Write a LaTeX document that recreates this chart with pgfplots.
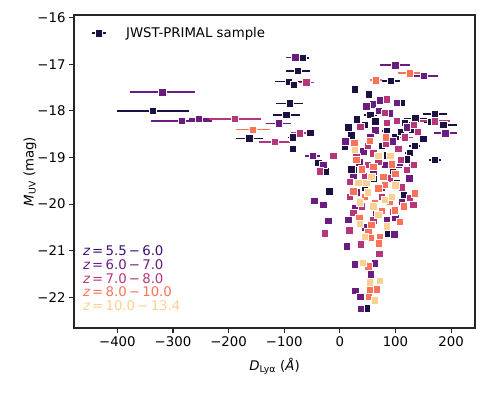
\documentclass[border=0pt]{standalone}
\usepackage{pgfplots}
\pgfplotsset{compat=1.18}
\usepackage{pgfplotstable}
\usepackage{fontspec}
\setmainfont{DejaVu Sans}
\definecolor{cA}{RGB}{28,16,68}
\definecolor{cAt}{RGB}{59,15,112}
\definecolor{cB}{RGB}{106,28,129}
\definecolor{cC}{RGB}{181,54,122}
\definecolor{cD}{RGB}{250,115,88}
\definecolor{cE}{RGB}{254,207,146}
\newcommand{\fs}{\fontsize{13.3}{16}\selectfont}

\pgfplotstableread{
x y ex
-336 -18.00 65
-163 -18.59 24
-66 -16.86 10
-75 -17.14 21
-92 -17.37 25
-83 -17.44 8
-90 -17.84 24
-96 -18.09 25
-53 -18.47 5
-85 -18.57 8
-84 -18.82 5
27 -17.54 5
52 -17.64 5
92 -17.35 17
112 -17.82 6
136 -18.16 20
171 -18.07 22
186 -18.30 24
164 -18.23 12
117 -18.25 10
84 -18.43 8
55 -18.09 12
30 -18.17 8
64 -18.22 6
31 -18.18 5
21 -18.52 6
9 -18.76 5
126 -18.90 8
135 -18.75 10
120 -19.04 8
171 -19.05 10
-39 -19.12 5
-25 -19.30 4
24 -19.27 5
21 -19.25 4
-19 -19.73 6
102 -19.55 6
87 -20.63 4
49 -22.24 3
100 -18.55 6
45 -18.30 5
75 -18.75 5
40 -18.90 5
110 -18.45 6
95 -19.30 5
60 -19.45 5
150 -18.60 6
15 -18.35 5
130 -18.40 8
70 -19.05 5
85 -18.95 5
45 -19.65 4
115 -19.80 5
}\binA
\pgfplotstableread{
x y ex
-319 -17.60 58
-284 -18.21 55
-253 -18.17 18
-110 -18.27 22
-80 -16.85 16
-49 -18.97 13
-30 -19.16 5
-46 -19.93 6
-30 -20.02 5
-21 -20.36 4
100 -17.02 27
151 -17.25 26
102 -17.82 6
72 -17.77 5
59 -17.86 5
48 -17.90 5
70 -18.00 5
64 -18.42 5
190 -18.48 20
42 -18.87 5
24 -19.41 5
105 -19.16 5
108 -19.12 5
81 -19.16 5
27 -20.09 5
84 -20.34 5
111 -19.95 5
15 -20.34 5
13 -20.91 4
98 -20.65 5
27 -21.29 4
63 -21.27 4
56 -21.51 4
28 -21.86 4
37 -21.99 4
38 -22.25 4
90 -18.05 5
55 -18.55 5
35 -19.10 5
75 -19.65 5
45 -20.50 5
65 -20.20 5
120 -18.35 6
10 -18.65 5
95 -18.65 5
60 -19.30 5
30 -19.75 5
100 -20.30 5
125 -19.45 5
}\binB
\pgfplotstableread{
x y ex
-189 -18.17 47
-117 -18.66 28
-60 -17.39 13
-72 -18.48 15
-12 -18.96 5
-36 -19.30 5
-27 -20.63 4
37 -18.34 5
85 -17.75 5
81 -18.04 5
171 -18.22 27
133 -18.30 8
102 -18.21 5
84 -18.25 5
117 -18.57 15
105 -18.82 5
83 -18.70 5
60 -18.91 5
50 -19.16 5
121 -19.27 5
133 -19.16 8
18 -19.52 5
18 -19.84 5
69 -19.09 5
111 -19.64 5
132 -20.02 5
24 -20.19 5
126 -19.87 5
96 -20.16 5
17 -20.56 4
38 -20.86 4
71 -21.07 4
45 -19.40 5
90 -19.45 5
60 -20.35 5
50 -18.75 5
140 -18.45 6
30 -19.00 5
75 -19.85 5
40 -20.05 5
110 -19.05 5
}\binC
\pgfplotstableread{
x y ex
-156 -18.40 31
65 -17.34 10
126 -17.19 22
26 -18.68 5
54 -18.64 5
83 -18.57 5
93 -19.15 5
24 -19.73 5
81 -19.59 5
66 -19.70 5
45 -19.84 5
63 -19.98 5
99 -20.13 5
135 -19.77 5
78 -19.41 5
69 -19.66 5
51 -20.59 5
57 -20.45 5
72 -20.70 5
108 -20.38 5
55 -20.73 4
70 -20.84 4
51 -21.34 4
54 -21.83 4
67 -21.83 4
52 -21.99 4
40 -19.25 5
90 -19.95 5
35 -20.30 5
100 -19.35 5
30 -19.05 5
115 -20.05 5
75 -20.15 5
60 -19.20 5
}\binD
\pgfplotstableread{
x y ex
27 -18.84 5
69 -18.97 5
91 -18.97 5
33 -19.55 5
48 -19.55 5
57 -19.41 5
36 -19.96 5
69 -20.23 5
36 -20.43 5
81 -19.91 5
93 -19.84 5
85 -20.48 5
41 -21.26 4
54 -21.68 4
72 -21.65 4
63 -22.07 4
50 -19.75 5
100 -19.60 5
60 -20.05 5
45 -20.70 4
}\binE

\pgfplotsset{
  bin/.style={only marks, mark=square*, mark size=3.7pt,
    mark options={fill=#1, draw=white, line width=0.7pt},
    error bars/x dir=both, error bars/x explicit, error bars/error mark=none,
    error bars/error bar style={line width=1.7pt, color=#1}},
}

\begin{document}
\begin{tikzpicture}
\useasboundingbox (-74pt,-64pt) rectangle (417pt,328pt);
\begin{axis}[
  anchor=south west, at={(0pt,0pt)},
  scale only axis, width=401pt, height=313pt,
  xmin=-478, xmax=243, ymin=-22.66, ymax=-15.94,
  axis line style={black!85, line width=1.07pt},
  tick style={black!85, line width=1.07pt},
  tick align=outside, major tick length=4.9pt,
  xtick pos=bottom, ytick pos=left,
  xtick={-400,-300,-200,-100,0,100,200},
  xticklabels={−400,−300,−200,−100,0,100,200},
  ytick={-22,-21,-20,-19,-18,-17,-16},
  yticklabels={−22,−21,−20,−19,−18,−17,−16},
  ticklabel style={font=\fs},
  xlabel={{\itshape D}\textsubscript{Lyα} ({\itshape Å})},
  ylabel={{\itshape M}\textsubscript{UV} (mag)},
  label style={font=\fs},
  xlabel style={at={(axis description cs:0.5,-0.1236)}, anchor=center},
  ylabel style={at={(axis description cs:-0.11,0.5)}, anchor=center},
  legend style={at={(axis description cs:0.042,0.9415)}, anchor=west,
    draw=none, fill=none, font=\fs, inner xsep=0pt,
    nodes={inner xsep=9pt}},
  legend cell align=left,
]
\addlegendimage{legend image code/.code={
  \draw[cA, line width=1.7pt] (0pt,0pt) -- (14pt,0pt);
  \draw[fill=cA, draw=white, line width=0.7pt] (3.3pt,-3.7pt) rectangle (10.7pt,3.7pt);
  \node[draw=none, fill=none, inner sep=0pt, minimum size=0pt] at (25pt,0pt) {};}}
\addlegendentry{JWST-PRIMAL sample}
\addplot[forget plot, bin=cA] table[x=x, y=y, x error=ex] {\binA};
\addplot[forget plot, bin=cB] table[x=x, y=y, x error=ex] {\binB};
\addplot[forget plot, bin=cC] table[x=x, y=y, x error=ex] {\binC};
\addplot[forget plot, bin=cD] table[x=x, y=y, x error=ex] {\binD};
\addplot[forget plot, bin=cE] table[x=x, y=y, x error=ex] {\binE};
\node[anchor=west, align=left, font=\fontsize{13.3}{13.7}\selectfont, inner sep=0pt]
  at (axis description cs:0.022,0.159) {%
  \textcolor{cAt}{{\itshape z}\,=\,5.5\,−\,6.0}\\
  \textcolor{cB}{{\itshape z}\,=\,6.0\,−\,7.0}\\
  \textcolor{cC}{{\itshape z}\,=\,7.0\,−\,8.0}\\
  \textcolor{cD}{{\itshape z}\,=\,8.0\,−\,10.0}\\
  \textcolor{cE}{{\itshape z}\,=\,10.0\,−\,13.4}};
\end{axis}
\end{tikzpicture}
\end{document}
